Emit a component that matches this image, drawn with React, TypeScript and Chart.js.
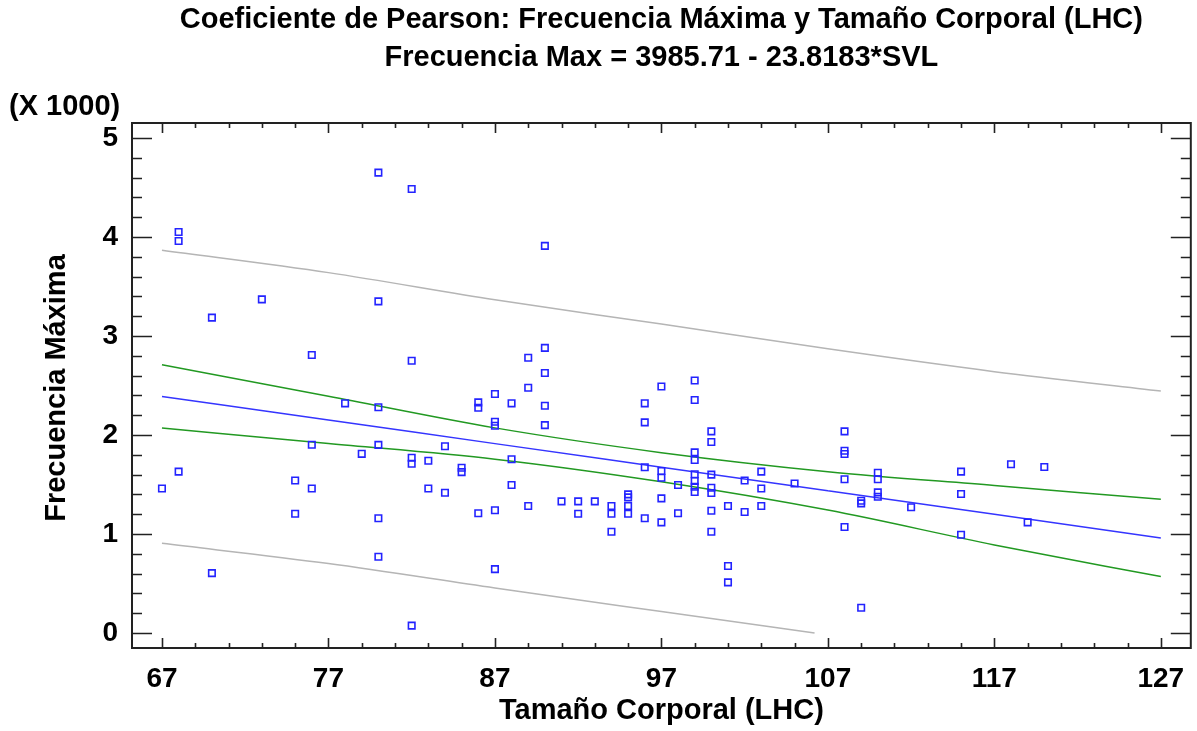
import React, { useEffect, useRef } from 'react';
import { Chart, registerables } from 'chart.js';

Chart.register(...registerables);

// ---- Text ----
const titleLine1 = 'Coeficiente de Pearson: Frecuencia Máxima y Tamaño Corporal (LHC)';
const titleLine2 = 'Frecuencia Max = 3985.71 - 23.8183*SVL';
const xAxisTitle = 'Tamaño Corporal (LHC)';
const yAxisTitle = 'Frecuencia Máxima';
const yScaleNote = '(X 1000)';

// ---- Axes ----
const xMin = 65.2;
const xMax = 128.8;
const yMin = -151;
const yMax = 5151;
const xTickValues = [67, 77, 87, 97, 107, 117, 127];
const yTickValues = [0, 1000, 2000, 3000, 4000, 5000];
const xMinorStep = 2;
const yMinorStep = 200;

// ---- Observations (SVL, Frecuencia máxima) ----
const svlValues = [
  67,
  68, 68, 68,
  70, 70,
  73,
  75, 75,
  76, 76, 76,
  78,
  79,
  80, 80, 80, 80, 80, 80,
  82, 82, 82, 82, 82,
  83, 83,
  84, 84,
  85, 85,
  86, 86, 86,
  87, 87, 87, 87, 87,
  88, 88, 88,
  89, 89, 89,
  90, 90, 90, 90, 90,
  91,
  92, 92,
  93,
  94, 94, 94,
  95, 95, 95, 95,
  96, 96, 96, 96,
  97, 97, 97, 97, 97,
  98, 98,
  99, 99, 99, 99, 99, 99, 99, 99,
  100, 100, 100, 100, 100, 100, 100,
  101, 101, 101,
  102, 102,
  103, 103, 103,
  105,
  108, 108, 108, 108, 108,
  109, 109, 109,
  110, 110, 110, 110,
  112,
  115, 115, 115,
  118,
  119,
  120,
];
const freqValues = [
  1460,
  4050, 3960, 1630,
  3185, 605,
  3370,
  1540, 1205,
  2808, 1902, 1460,
  2320,
  1810,
  4650, 3350, 2280, 1900, 1160, 770,
  4485, 2750, 1770, 1710, 75,
  1740, 1460,
  1886, 1417,
  1670, 1625,
  2330, 2276, 1210,
  2414, 2134, 2094, 1240, 646,
  2320, 1755, 1495,
  2780, 2478, 1283,
  3910, 2880, 2626, 2296, 2100,
  1330,
  1330, 1205,
  1330,
  1283, 1205, 1023,
  1400, 1370, 1283, 1205,
  2320, 2128, 1674, 1160,
  2490, 1636, 1569, 1360, 1118,
  1495, 1210,
  2550, 2354, 1825, 1747, 1603, 1535, 1478, 1424,
  2037, 1930, 1600, 1468, 1414, 1235, 1023,
  1283, 677, 512,
  1540, 1222,
  1630, 1460, 1283,
  1510,
  2037, 1841, 1808, 1553, 1071,
  1336, 1310, 256,
  1619, 1553, 1421, 1377,
  1270,
  1630, 1404, 993,
  1704,
  1118,
  1677,
];

// ---- Fitted line and bands ----
const bandX = [67, 77, 87, 97, 107, 117, 127];
const fitLine = [2390, 2152, 1913, 1675, 1437, 1199, 961];
const confUpper = [2710, 2392, 2072, 1822, 1630, 1490, 1350];
const confLower = [2070, 1914, 1756, 1528, 1242, 890, 570];
const predUpper = [3866, 3640, 3365, 3120, 2870, 2640, 2444];
const predLowerX = [67, 77, 87, 97, 106.2];
const predLower = [906, 702, 455, 217, 0];

const FONT = '"Liberation Sans", Arial, Helvetica, sans-serif';

const toXY = (xs: number[], ys: number[]) => xs.map((x, i) => ({ x, y: ys[i] }));

const decorPlugin = {
  id: 'decor',
  beforeDraw(chart: any) {
    const ctx = chart.ctx;
    ctx.save();
    ctx.fillStyle = '#ffffff';
    ctx.fillRect(0, 0, chart.width, chart.height);
    ctx.restore();
  },
  afterDraw(chart: any) {
    const ctx = chart.ctx;
    const area = chart.chartArea;
    const xs = chart.scales.x;
    const ys = chart.scales.y;
    ctx.save();
    // frame
    ctx.strokeStyle = '#222222';
    ctx.lineWidth = 2;
    ctx.strokeRect(area.left, area.top, area.right - area.left, area.bottom - area.top);

    // ticks inside on all four sides
    ctx.lineWidth = 1.6;
    ctx.beginPath();
    const xStart = xTickValues[0];
    for (let v = xStart; v <= xMax + 1e-9; v += xMinorStep) {
      const major = xTickValues.indexOf(v) >= 0;
      const len = major ? 10 : 5;
      const px = Math.round(xs.getPixelForValue(v)) + 0.5;
      ctx.moveTo(px, area.bottom);
      ctx.lineTo(px, area.bottom - len);
      ctx.moveTo(px, area.top);
      ctx.lineTo(px, area.top + len);
    }
    for (let v = xStart - xMinorStep; v >= xMin; v -= xMinorStep) {
      const px = Math.round(xs.getPixelForValue(v)) + 0.5;
      ctx.moveTo(px, area.bottom);
      ctx.lineTo(px, area.bottom - 5);
      ctx.moveTo(px, area.top);
      ctx.lineTo(px, area.top + 5);
    }
    for (let v = yTickValues[0]; v <= yMax; v += yMinorStep) {
      const major = yTickValues.indexOf(v) >= 0;
      const len = major ? 20 : 10;
      const py = Math.round(ys.getPixelForValue(v)) + 0.5;
      ctx.moveTo(area.left, py);
      ctx.lineTo(area.left + len, py);
      ctx.moveTo(area.right, py);
      ctx.lineTo(area.right - len, py);
    }
    ctx.stroke();

    // texts
    ctx.fillStyle = '#000000';
    ctx.textAlign = 'center';
    ctx.textBaseline = 'middle';
    const cx = (area.left + area.right) / 2;
    ctx.font = `bold 29px ${FONT}`;
    ctx.fillText(titleLine1, cx, 20);
    ctx.fillText(titleLine2, cx, 58);
    ctx.fillText(xAxisTitle, cx, 711);
    ctx.textAlign = 'left';
    ctx.fillText(yScaleNote, 9, 107);
    ctx.save();
    ctx.translate(57, 388);
    ctx.rotate(-Math.PI / 2);
    ctx.textAlign = 'center';
    ctx.fillText(yAxisTitle, 0, 0);
    ctx.restore();
    ctx.restore();
  },
};

export default function App() {
  const canvasRef = useRef<HTMLCanvasElement | null>(null);

  useEffect(() => {
    const canvas = canvasRef.current;
    if (!canvas) return;
    const lineDs = (label: string, data: any[], color: string) => ({
      label,
      data,
      showLine: true,
      borderColor: color,
      backgroundColor: color,
      borderWidth: 1.5,
      pointRadius: 0,
      pointHoverRadius: 0,
      fill: false,
      cubicInterpolationMode: 'monotone',
    });
    const chart = new Chart(canvas, {
      type: 'scatter',
      data: {
        datasets: [
          {
            label: 'Observaciones',
            data: toXY(svlValues, freqValues),
            pointStyle: 'rect',
            pointRadius: 4.6,
            pointHoverRadius: 4.6,
            borderColor: '#2323ff',
            backgroundColor: 'rgba(255,255,255,0)',
            borderWidth: 1.6,
            showLine: false,
          } as any,
          lineDs('Ajuste', toXY(bandX, fitLine), '#3535ff'),
          lineDs('Conf. sup.', toXY(bandX, confUpper), '#229922'),
          lineDs('Conf. inf.', toXY(bandX, confLower), '#229922'),
          lineDs('Pred. sup.', toXY(bandX, predUpper), '#b5b5b5'),
          lineDs('Pred. inf.', toXY(predLowerX, predLower), '#b5b5b5'),
        ] as any,
      },
      options: {
        animation: false,
        responsive: true,
        maintainAspectRatio: false,
        layout: { padding: { top: 123, right: 5, left: 0, bottom: 0 } },
        plugins: {
          legend: { display: false },
          title: { display: false },
          tooltip: { enabled: false },
        },
        events: [],
        scales: {
          x: {
            type: 'linear',
            min: xMin,
            max: xMax,
            afterBuildTicks: (s: any) => {
              s.ticks = xTickValues.map((v) => ({ value: v }));
            },
            afterFit: (s: any) => {
              s.height = 83;
              s.paddingLeft = 0;
              s.paddingRight = 0;
            },
            grid: { display: false, drawTicks: false },
            border: { display: false },
            ticks: {
              padding: 14,
              color: '#000',
              font: { family: FONT, size: 28, weight: 'bold' },
              maxRotation: 0,
              autoSkip: false,
              callback: (v: any) => String(v),
            },
          },
          y: {
            type: 'linear',
            min: yMin,
            max: yMax,
            afterBuildTicks: (s: any) => {
              s.ticks = yTickValues.map((v) => ({ value: v }));
            },
            afterFit: (s: any) => {
              s.width = 132;
              s.paddingTop = 0;
              s.paddingBottom = 0;
            },
            grid: { display: false, drawTicks: false },
            border: { display: false },
            ticks: {
              padding: 14,
              color: '#000',
              font: { family: FONT, size: 28, weight: 'bold' },
              autoSkip: false,
              callback: (v: any) => String(Number(v) / 1000),
            },
          },
        },
      } as any,
      plugins: [decorPlugin],
    });
    return () => chart.destroy();
  }, []);

  return (
    <div style={{ position: 'fixed', left: 0, top: 0, width: 1197, height: 731, background: '#fff' }}>
      <canvas ref={canvasRef} />
    </div>
  );
}
